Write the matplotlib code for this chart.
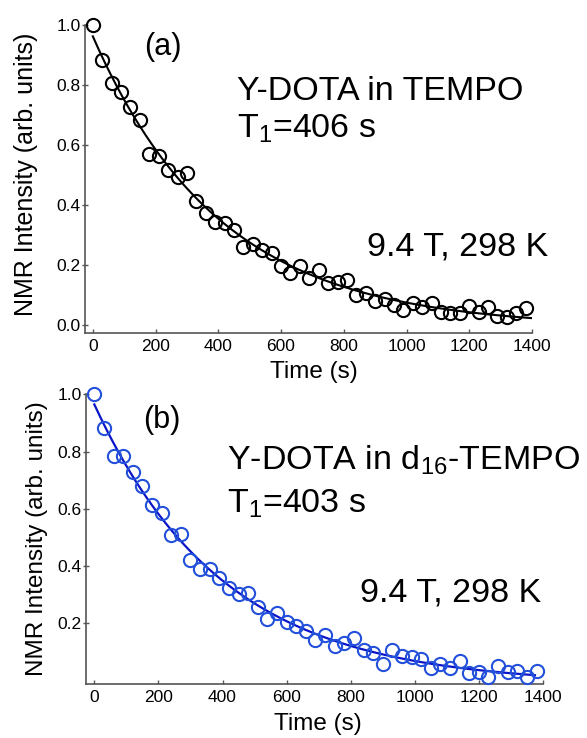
import numpy as np
import matplotlib
matplotlib.use("Agg")
import matplotlib.pyplot as plt

plt.rcParams['font.family'] = ['Liberation Sans', 'DejaVu Sans']
plt.rcParams['mathtext.fontset'] = 'custom'
plt.rcParams['mathtext.rm'] = 'Liberation Sans'
plt.rcParams['mathtext.it'] = 'Liberation Sans'

# time points (s), same for both panels
time_s = [0, 30, 60, 90, 120, 150, 180, 210, 240, 270, 300, 330, 360, 390,
          420, 450, 480, 510, 540, 570, 600, 630, 660, 690, 720, 750, 780,
          810, 840, 870, 900, 930, 960, 990, 1020, 1050, 1080, 1110, 1140,
          1170, 1200, 1230, 1260, 1290, 1320, 1350, 1380]

# (a) Y-DOTA in TEMPO
intensity_a = [1.000, 0.883, 0.805, 0.778, 0.726, 0.683, 0.570, 0.563, 0.517,
               0.494, 0.508, 0.414, 0.374, 0.344, 0.339, 0.317, 0.261, 0.270,
               0.250, 0.239, 0.197, 0.174, 0.195, 0.155, 0.183, 0.139, 0.144,
               0.150, 0.100, 0.108, 0.081, 0.086, 0.067, 0.050, 0.072, 0.061,
               0.074, 0.044, 0.041, 0.041, 0.063, 0.042, 0.059, 0.028, 0.026,
               0.039, 0.056]

# (b) Y-DOTA in d16-TEMPO
intensity_b = [1.000, 0.881, 0.785, 0.784, 0.727, 0.679, 0.613, 0.584, 0.508,
               0.511, 0.420, 0.388, 0.388, 0.360, 0.322, 0.302, 0.307, 0.258,
               0.214, 0.235, 0.205, 0.192, 0.174, 0.141, 0.159, 0.121, 0.130,
               0.147, 0.107, 0.097, 0.058, 0.107, 0.086, 0.081, 0.074, 0.043,
               0.058, 0.043, 0.069, 0.027, 0.031, 0.013, 0.051, 0.031, 0.034,
               0.013, 0.033]

t1_a = 406
t1_b = 403


def fit_curve(t, y, t1, t_end):
    """Least-squares amplitude/offset for exp(-t/T1), sampled to t_end."""
    t = np.asarray(t, dtype=float)
    y = np.asarray(y, dtype=float)
    basis = np.column_stack([np.exp(-t / t1), np.ones_like(t)])
    (amp, off), *_ = np.linalg.lstsq(basis, y, rcond=None)
    tt = np.linspace(0, t_end, 300)
    return tt, amp * np.exp(-tt / t1) + off


def style_axes(ax):
    for side in ('top', 'right'):
        ax.spines[side].set_visible(False)
    for side in ('left', 'bottom'):
        ax.spines[side].set_color('#555555')
        ax.spines[side].set_linewidth(1.2)
    ax.tick_params(axis='x', direction='in', length=3, width=1,
                   color='#555555', labelsize=12.5, pad=4)
    ax.tick_params(axis='y', direction='inout', length=4, width=1,
                   color='#555555', labelsize=12.5, pad=1)
    ax.set_xticks([0, 200, 400, 600, 800, 1000, 1200, 1400])


fig = plt.figure(figsize=(5.87, 7.38), dpi=100)

# ---- panel (a)
ax1 = fig.add_axes([0.1448, 0.5488, 0.7615, 0.4173])
tt, yy = fit_curve(time_s, intensity_a, t1_a, 1400)
ax1.plot(tt, yy, color='black', linewidth=1.5, zorder=2)
ax1.plot(time_s, intensity_a, linestyle='none', marker='o', markersize=9.5,
         markerfacecolor='none', markeredgecolor='black',
         markeredgewidth=1.5, zorder=3, clip_on=False)
ax1.set_xlim(-25, 1400)
ax1.set_ylim(-0.027, 1.0)
ax1.set_yticks([0.0, 0.2, 0.4, 0.6, 0.8, 1.0])
ax1.set_yticklabels(['0.0', '0.2', '0.4', '0.6', '0.8', '1.0'])
style_axes(ax1)
ax1.set_xlabel('Time (s)', fontsize=17.5)
ax1.xaxis.set_label_coords(0.512, -0.091)
ax1.set_ylabel('NMR Intensity (arb. units)', fontsize=18)
ax1.yaxis.set_label_coords(-0.105, 0.516)

ax1.text(0.1745, 0.9286, '(a)', transform=ax1.transAxes, fontsize=22,
         ha='center', va='center')
ax1.text(0.340, 0.7565, 'Y-DOTA in TEMPO', transform=ax1.transAxes,
         fontsize=24.5, ha='left', va='baseline')
ax1.text(0.340, 0.636, r'T$_1$=%d s' % t1_a, transform=ax1.transAxes,
         fontsize=24.5, ha='left', va='baseline')
ax1.text(0.631, 0.253, '9.4 T, 298 K', transform=ax1.transAxes,
         fontsize=24.5, ha='left', va='baseline')

# ---- panel (b)
ax2 = fig.add_axes([0.1465, 0.0732, 0.7785, 0.3925])
tt, yy = fit_curve(time_s, intensity_b, t1_b, 1375)
ax2.plot(tt, yy, color='#0a14c8', linewidth=1.6, zorder=2)
ax2.plot(time_s, intensity_b, linestyle='none', marker='o', markersize=9.5,
         markerfacecolor='none', markeredgecolor='#2350da',
         markeredgewidth=1.5, zorder=3, clip_on=False)
ax2.set_xlim(-26, 1400)
ax2.set_ylim(-0.012, 1.0)
ax2.set_yticks([0.2, 0.4, 0.6, 0.8, 1.0])
ax2.set_yticklabels(['0.2', '0.4', '0.6', '0.8', '1.0'])
style_axes(ax2)
ax2.set_xlabel('Time (s)', fontsize=17.5)
ax2.xaxis.set_label_coords(0.508, -0.100)
ax2.set_ylabel('NMR Intensity (arb. units)', fontsize=17.5)
ax2.yaxis.set_label_coords(-0.083, 0.502)

ax2.text(0.1663, 0.9096, '(b)', transform=ax2.transAxes, fontsize=22,
         ha='center', va='center')
ax2.text(0.3085, 0.7387, r'Y-DOTA in d$_{16}$-TEMPO', transform=ax2.transAxes,
         fontsize=24.5, ha='left', va='baseline')
ax2.text(0.3085, 0.590, r'T$_1$=%d s' % t1_b, transform=ax2.transAxes,
         fontsize=24.5, ha='left', va='baseline')
ax2.text(0.5996, 0.284, '9.4 T, 298 K', transform=ax2.transAxes,
         fontsize=24.5, ha='left', va='baseline')

fig.savefig('out.png', dpi=100)
